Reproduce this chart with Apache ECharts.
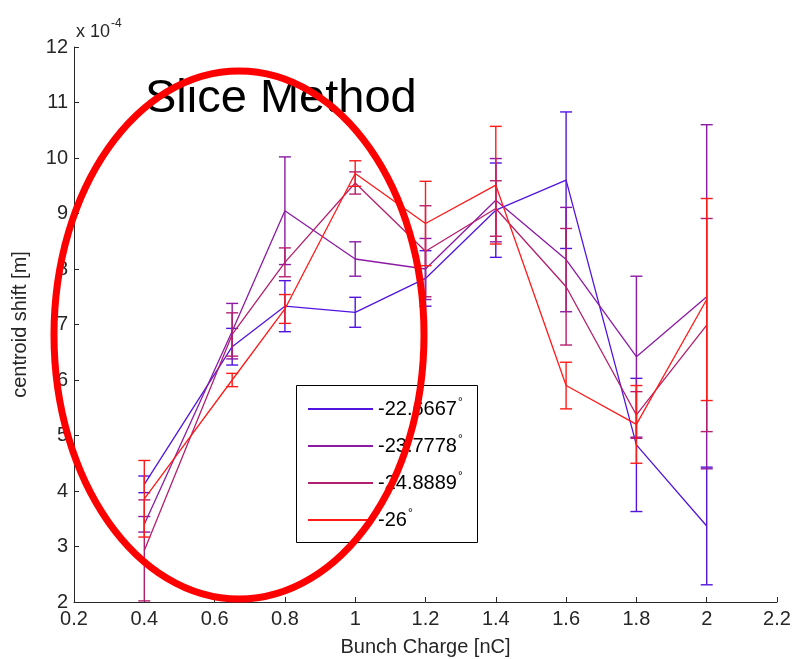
<!DOCTYPE html>
<html>
<head>
<meta charset="utf-8">
<script src="https://cdn.jsdelivr.net/npm/echarts@6/dist/echarts.min.js"></script>
<style>html,body{margin:0;padding:0;background:#fff;}#c{width:794px;height:659px;}</style>
</head>
<body>
<div id="c"></div>
<script>
// Bunch charge [nC]
const charges = [0.4, 0.65, 0.8, 1.0, 1.2, 1.4, 1.6, 1.8, 2.0];
// centroid shift, in units of 1e-4 m
const names = ['-22.6667°', '-23.7778°', '-24.8889°', '-26°'];
const shiftA = [4.12, 6.60, 7.33, 7.22, 7.83, 9.06, 9.60, 4.83, 3.37];
const errA   = [0.15, 0.33, 0.46, 0.27, 0.50, 0.85, 1.23, 1.20, 1.06];
const shiftB = [3.40, 6.88, 9.05, 8.18, 8.00, 9.24, 8.17, 6.42, 7.50];
const errB   = [0.14, 0.50, 0.97, 0.31, 0.55, 0.75, 0.94, 1.45, 3.10];
const shiftC = [2.93, 6.82, 8.12, 9.55, 8.32, 9.09, 7.68, 5.37, 6.99];
const errC   = [0.91, 0.39, 0.26, 0.20, 0.82, 0.50, 1.05, 0.42, 1.92];
const shiftD = [3.86, 6.00, 7.28, 9.72, 8.82, 9.51, 5.90, 5.20, 7.45];
const errD   = [0.69, 0.12, 0.26, 0.23, 0.76, 1.06, 0.42, 0.70, 1.82];
const yTicks = [2, 3, 4, 5, 6, 7, 8, 9, 10, 11, 12];
const xTicks = [0.2, 0.4, 0.6, 0.8, 1.0, 1.2, 1.4, 1.6, 1.8, 2.0, 2.2];

const colors = ['#5214e0', '#8c1aa5', '#b41e6e', '#ff1a1a'];
const shifts = [shiftA, shiftB, shiftC, shiftD];
const errs = [errA, errB, errC, errD];
const FONT = '"Liberation Sans", Arial, Helvetica, sans-serif';

function errRender(color) {
  return function (params, api) {
    const x = api.value(0), lo = api.value(1), hi = api.value(2);
    const pLo = api.coord([x, lo]), pHi = api.coord([x, hi]);
    const w = 6;
    const style = { stroke: color, lineWidth: 1.4 };
    return {
      type: 'group',
      children: [
        { type: 'line', shape: { x1: pLo[0], y1: pLo[1], x2: pHi[0], y2: pHi[1] }, style: style },
        { type: 'line', shape: { x1: pLo[0] - w, y1: pLo[1], x2: pLo[0] + w, y2: pLo[1] }, style: style },
        { type: 'line', shape: { x1: pHi[0] - w, y1: pHi[1], x2: pHi[0] + w, y2: pHi[1] }, style: style }
      ]
    };
  };
}

const series = [];
names.forEach(function (n, i) {
  series.push({
    name: n, type: 'line', color: colors[i],
    data: charges.map(function (c, k) { return [c, shifts[i][k]]; }),
    showSymbol: false, symbol: 'none',
    lineStyle: { width: 1.3, color: colors[i] },
    animation: false, z: 2 + i
  });
  series.push({
    name: 'err' + i, type: 'custom',
    data: charges.map(function (c, k) { return [c, shifts[i][k] - errs[i][k], shifts[i][k] + errs[i][k]]; }),
    encode: { x: 0, y: [1, 2] },
    renderItem: errRender(colors[i]),
    animation: false, z: 2 + i
  });
});

const chart = echarts.init(document.getElementById('c'), null, { renderer: 'canvas' });
chart.setOption({
  backgroundColor: '#fff',
  animation: false,
  grid: { left: 74, right: 17, top: 47, bottom: 57, containLabel: false, outerBoundsMode: 'none' },
  xAxis: {
    type: 'value', min: xTicks[0], max: xTicks[xTicks.length - 1], interval: 0.2,
    name: 'Bunch Charge [nC]', nameLocation: 'middle', nameGap: 35,
    nameTextStyle: { fontSize: 20, color: '#262626', fontFamily: FONT },
    axisLine: { lineStyle: { color: '#262626', width: 1 } },
    axisTick: { inside: true, length: 5, lineStyle: { color: '#262626' } },
    axisLabel: { fontSize: 20, color: '#262626', fontFamily: FONT, margin: 7 },
    splitLine: { show: false }
  },
  yAxis: {
    type: 'value', min: yTicks[0], max: yTicks[yTicks.length - 1], interval: 1,
    name: 'centroid shift [m]', nameLocation: 'middle', nameGap: 44,
    nameTextStyle: { fontSize: 20, color: '#262626', fontFamily: FONT },
    axisLine: { show: true, lineStyle: { color: '#262626', width: 1 } },
    axisTick: { show: true, inside: true, length: 5, lineStyle: { color: '#262626' } },
    axisLabel: { fontSize: 20, color: '#262626', fontFamily: FONT, margin: 6 },
    splitLine: { show: false }
  },
  legend: {
    data: names, orient: 'vertical', left: 308, top: 397,
    itemWidth: 65, itemHeight: 2, icon: 'rect', itemGap: 15,
    selectedMode: false, padding: 0,
    formatter: function (n) { return '{n|' + n.replace('°', '') + '}{d|°}'; },
    textStyle: {
      fontSize: 20, color: '#000', fontFamily: FONT,
      rich: {
        n: { fontSize: 20, fontFamily: FONT, color: '#000' },
        d: { fontSize: 12, fontFamily: FONT, color: '#000', verticalAlign: 'top', padding: [0, 0, 12, 1] }
      }
    }
  },
  graphic: [
    { type: 'rect', z: 3, shape: { x: 296.5, y: 385.5, width: 181, height: 157 },
      style: { fill: '#fff', stroke: '#000', lineWidth: 1 } },
    { type: 'text', z: 5, x: 145, y: 76,
      style: { text: 'Slice Method', fontSize: 47, fontFamily: FONT, fill: '#000' } },
    { type: 'text', z: 5, x: 76, y: 15,
      style: { text: '{a|x 10}{b|-4}', fontFamily: FONT, fill: '#262626',
        rich: { a: { fontSize: 18, fontFamily: FONT, padding: [8, 0, 0, 0] },
                b: { fontSize: 12, fontFamily: FONT, padding: [0, 0, 8, 1] } } } },
    { type: 'ellipse', z: 100, shape: { cx: 239, cy: 335, rx: 185, ry: 264 },
      style: { fill: 'none', stroke: '#ff0000', lineWidth: 7 } }
  ],
  series: series
});
</script>
</body>
</html>
